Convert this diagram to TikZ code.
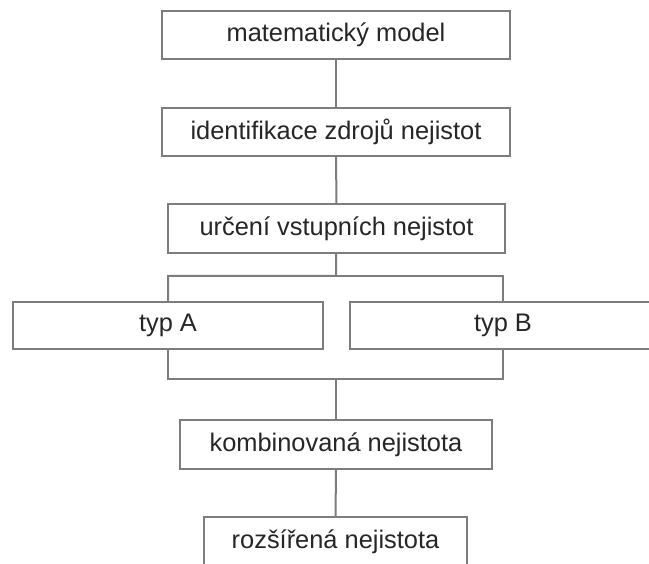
\documentclass[tikz,border=0pt]{standalone}
\usepackage{fontspec}
\setmainfont{Liberation Sans}
\definecolor{ramecek}{RGB}{125,125,125}

\begin{document}
\begin{tikzpicture}[x=1pt,y=-1pt]
\tikzstyle{krok}=[rectangle,draw=ramecek,line width=2pt,fill=white,inner sep=0pt,
  minimum height=48pt,font=\fontsize{25.4}{30}\selectfont,text=black!85]
\tikzstyle{spoj}=[draw=ramecek,line width=2pt]
\useasboundingbox (0,0) rectangle (649,564);
\node[krok,minimum width=348pt] (model) at (336,35) {matematický model};
\node[krok,minimum width=348pt] (zdroje) at (336,132) {identifikace zdrojů nejistot};
\node[krok,minimum width=337pt,minimum height=49pt] (vstupni) at (336.5,228.5) {určení vstupních nejistot};
\node[krok,minimum width=310pt,minimum height=47pt] (typA) at (168,325.5) {typ A};
\node[krok,minimum width=306pt,minimum height=47pt] (typB) at (503,325.5) {typ B};
\node[krok,minimum width=312pt,minimum height=49pt] (komb) at (336,444.5) {kombinovaná nejistota};
\node[krok,minimum width=263pt,minimum height=50pt] (rozs) at (335.5,542) {rozšířená nejistota};
\coordinate (nahore) at (336,276);
\coordinate (dole) at (336,379);
\path[spoj] (model) -- (zdroje);
\path[spoj] (zdroje) -- (vstupni);
\path[spoj] (vstupni) -- (nahore) -| (typA);
\path[spoj] (nahore) -| (typB);
\path[spoj] (typA) |- (dole) -| (typB);
\path[spoj] (dole) -- (komb);
\path[spoj] (komb) -- (rozs);
\end{tikzpicture}
\end{document}
